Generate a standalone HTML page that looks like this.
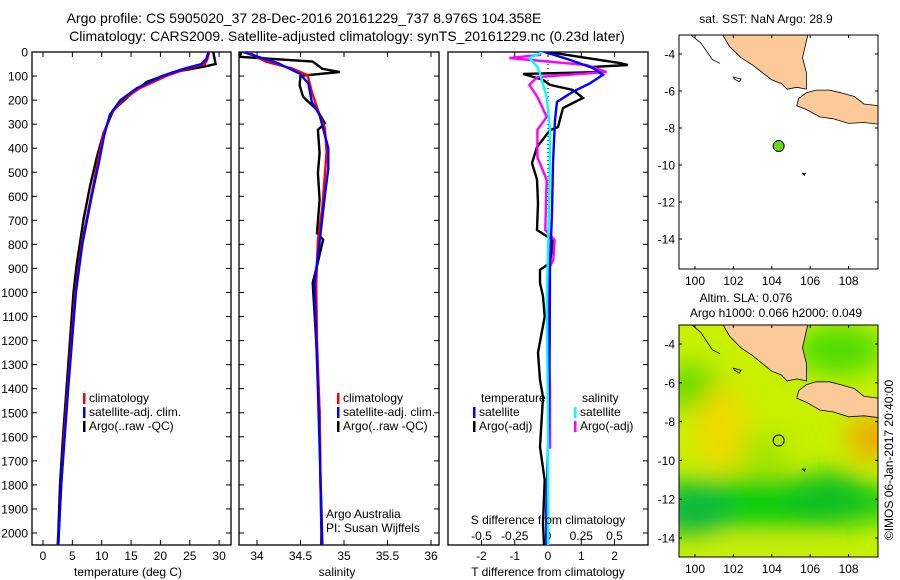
<!DOCTYPE html>
<html><head><meta charset="utf-8">
<style>
body{margin:0;background:#fff;}
svg{display:block;font-family:"Liberation Sans","DejaVu Sans",sans-serif;}
text{fill:#000;}
</style></head>
<body>
<svg id="fig" width="900" height="580" viewBox="0 0 900 580" xmlns="http://www.w3.org/2000/svg">
<defs>
<filter id="blur" x="-50%" y="-50%" width="200%" height="200%"><feGaussianBlur stdDeviation="13"/></filter>
<clipPath id="c1"><rect x="32" y="52" width="199" height="493"/></clipPath>
<clipPath id="c2"><rect x="239" y="52" width="200" height="493"/></clipPath>
<clipPath id="c3"><rect x="448" y="52" width="200" height="493"/></clipPath>
<clipPath id="cm1"><rect x="679" y="35" width="199" height="234"/></clipPath>
<clipPath id="cm2"><rect x="679" y="325" width="199" height="232"/></clipPath>
</defs>
<text x="304" y="23" font-size="14" text-anchor="middle">Argo profile: CS 5905020_37 28-Dec-2016 20161229_737 8.976S 104.358E</text>
<text x="347" y="41" font-size="14" text-anchor="middle">Climatology: CARS2009. Satellite-adjusted climatology: synTS_20161229.nc (0.23d later)</text>
<g id="p1"></g>
<g id="p2"></g>
<g id="p3"></g>
<g id="m1"></g>
<g id="m2"></g>
<text transform="translate(893,460) rotate(-90)" font-size="12" text-anchor="middle">©IMOS 06-Jan-2017 20:40:00</text>
</svg>
<script>
// ---- data ----
const depthTicks = [0,100,200,300,400,500,600,700,800,900,1000,1100,1200,1300,1400,1500,1600,1700,1800,1900,2000];
const tempTicks = [0,5,10,15,20,25,30];
const salTicks = [34,34.5,35,35.5,36];
const tdiffTicks = [-2,-1,0,1,2];
const sdiffTicks = [-0.5,-0.25,0,0.25,0.5];
const lonTicks = [100,102,104,106,108];
const latTicks = [-4,-6,-8,-10,-12,-14];

const tArgoDepth = [0,50,60,84,124,179,241,338,434,558,697,890,1000,1400,1600,1800,2000,2050];
const tArgoVal   = [29,29.4,27.6,22.2,17.7,14.8,12,10.3,9.2,8.0,6.9,5.7,5.2,4.0,3.4,2.9,2.6,2.5];
const tClimDepth = [0,30,50,70,100,150,200,260,350,450,600,800,1000,1400,1600,1800,2000,2050];
const tClimVal   = [28.3,28,27.6,24.5,21,16.5,13.5,11.5,10.2,9.4,8.2,6.6,5.5,4.2,3.6,3.1,2.7,2.6];
const tSatDepth  = [0,30,50,70,100,150,200,260,350,450,600,800,1000,1400,1600,1800,2000,2050];
const tSatVal    = [28.2,27.8,27,24,20.3,16,13.2,11.4,10.4,9.6,8.3,6.7,5.6,4.3,3.7,3.1,2.7,2.6];

const sArgoDepth = [0,20,40,70,83,99,138,186,241,296,324,420,503,614,753,780,890,960,1015,1200,1500,1800,2000,2050];
const sArgoVal   = [33.82,33.8,34.64,34.75,34.95,34.5,34.49,34.53,34.69,34.78,34.7,34.72,34.7,34.72,34.69,34.76,34.69,34.64,34.65,34.68,34.72,34.73,34.74,34.74];
const sClimDepth = [0,40,68,96,165,262,317,414,510,648,786,966,1200,1500,1800,2050];
const sClimVal   = [33.9,34.1,34.4,34.58,34.63,34.72,34.78,34.8,34.78,34.75,34.7,34.68,34.69,34.72,34.73,34.75];
const sSatDepth  = [0,45,90,130,207,262,400,485,596,790,966,1400,1900,2050];
const sSatVal    = [33.84,34.23,34.49,34.59,34.63,34.72,34.82,34.82,34.78,34.72,34.66,34.7,34.74,34.75];

const dTSatDepth = [0,33,67,95,130,165,207,283,462,670,877,1200,1500,1900,2050];
const dTSatVal   = [-0.1,0.66,1.35,1.65,1.26,0.75,0.27,0.21,0.15,0.12,0.06,0.05,0.03,-0.05,-0.05];
const dTArgoDepth = [0,12,46,54,62,83,91,116,137,158,191,233,312,325,395,462,530,628,740,782,877,906,960,1016,1100,1250,1364,1434,1642,1780,1958,2050];
const dTArgoVal   = [0,0.57,2.16,2.4,1.35,1.65,-0.75,-0.15,0.06,0.75,1.05,0.45,0.3,0.06,-0.33,-0.48,-0.33,-0.3,-0.33,0.15,0.06,-0.24,-0.24,-0.15,-0.1,-0.3,-0.24,-0.15,-0.24,-0.1,-0.15,-0.12];
const dSArgoDepth = [0,12,25,54,83,104,137,187,270,324,437,532,740,782,865,906,1050,1400,1650];
const dSArgoVal   = [-0.06,-0.06,-0.29,0.29,0.44,-0.08,-0.14,-0.08,-0.01,-0.08,-0.08,-0.01,-0.02,0.05,0.04,0,0,0.015,0.015];
const dSSatDepth = [0,25,62,90,187,324,600,1050,1500,2050];
const dSSatVal   = [-0.04,-0.14,-0.08,-0.06,-0.01,0.015,0.01,-0.01,0,0];

const argoLon = [104.358];
const argoLat = [-8.976];

// ---- helpers ----
const NS='http://www.w3.org/2000/svg';
function mk(parent, tag, attrs, txt){const e=document.createElementNS(NS,tag);for(const k in attrs)e.setAttribute(k,attrs[k]);if(txt!==undefined)e.textContent=txt;parent.appendChild(e);return e;}
const yD = d => 52 + d*0.2405;
const xT = t => 43 + t*5.87;
const xS = s => 257 + (s-34)*87;
const xDT = v => 548 + v*33.3;
const xDS = v => 548 + v*133;

function frame(g,x0,x1){const r=mk(g,'rect',{x:x0,y:52,width:x1-x0,height:493,fill:'none',stroke:'#000','stroke-width':1.3});

}
function line(g,depths,vals,xf,color,clip,name){
  const pts=depths.map((d,i)=>xf(vals[i]).toFixed(1)+','+yD(d).toFixed(1)).join(' ');
  const p=mk(g,'polyline',{points:pts,fill:'none',stroke:color,'stroke-width':2.4,'stroke-linejoin':'miter','clip-path':'url(#'+clip+')'});
  
  
}
function depthAxis(g,x0,x1,labels){
  depthTicks.forEach(d=>{
    const y=yD(d);
    mk(g,'line',{x1:x0,y1:y,x2:x0+5,y2:y,stroke:'#000'});
    mk(g,'line',{x1:x1-5,y1:y,x2:x1,y2:y,stroke:'#000'});
    if(labels){const t=mk(g,'text',{x:28,y:y+4.5,'font-size':12,'text-anchor':'end'},String(d));
      
      }
  });
}
function xAxis(g,ticks,xf,y){
  ticks.forEach(v=>{const x=xf(v);
    mk(g,'line',{x1:x,y1:545,x2:x,y2:540,stroke:'#000'});
    mk(g,'line',{x1:x,y1:52,x2:x,y2:57,stroke:'#000'});
    const t=mk(g,'text',{x:x,y:y,'font-size':12,'text-anchor':'middle'},String(v));
    
    });
}
function legend(g,x,y,items){
  items.forEach((it,i)=>{
    mk(g,'rect',{x:x,y:y+i*14-9,width:2.5,height:11,fill:it[1]});
    const t=mk(g,'text',{x:x+6,y:y+i*14,'font-size':12},it[0]);
    
    
  });
}

// ---- panel 1 ----
const p1=document.getElementById('p1');
frame(p1,32,231); depthAxis(p1,32,231,true); xAxis(p1,tempTicks,xT,560);
line(p1,tArgoDepth,tArgoVal,xT,'#000','c1','temp-argo-line');
line(p1,tClimDepth,tClimVal,xT,'#f00','c1','temp-climatology-line');
line(p1,tSatDepth,tSatVal,xT,'#00f','c1','temp-satellite-line');
legend(p1,83,402,[['climatology','#f00'],['satellite-adj. clim.','#00f'],['Argo(..raw -QC)','#000']]);
let t=mk(p1,'text',{x:128,y:576,'font-size':12,'text-anchor':'middle'},'temperature (deg C)');
 

// ---- panel 2 ----
const p2=document.getElementById('p2');
frame(p2,239,439); depthAxis(p2,239,439,false); xAxis(p2,salTicks,xS,560);
line(p2,sArgoDepth,sArgoVal,xS,'#000','c2','sal-argo-line');
line(p2,sClimDepth,sClimVal,xS,'#f00','c2','sal-climatology-line');
line(p2,sSatDepth,sSatVal,xS,'#00f','c2','sal-satellite-line');
legend(p2,337,402,[['climatology','#f00'],['satellite-adj. clim.','#00f'],['Argo(..raw -QC)','#000']]);
t=mk(p2,'text',{x:326,y:518,'font-size':12},'Argo Australia');  
t=mk(p2,'text',{x:326,y:532,'font-size':12},'PI: Susan Wijffels');  
t=mk(p2,'text',{x:337,y:576,'font-size':12,'text-anchor':'middle'},'salinity');  

// ---- panel 3 ----
const p3=document.getElementById('p3');
frame(p3,448,648);
depthTicks.forEach(d=>{const y=yD(d);mk(p3,'line',{x1:643,y1:y,x2:648,y2:y,stroke:'#000'});});
tdiffTicks.forEach(v=>{const x=xDT(v);mk(p3,'line',{x1:x,y1:52,x2:x,y2:57,stroke:'#000'});
  const tt=mk(p3,'text',{x:x,y:560,'font-size':12,'text-anchor':'middle'},String(v));
   });
sdiffTicks.forEach(v=>{const x=xDS(v);mk(p3,'line',{x1:x,y1:545,x2:x,y2:540,stroke:'#000'});
  const tt=mk(p3,'text',{x:x,y:540,'font-size':12,'text-anchor':'middle'},String(v));
   });
mk(p3,'line',{x1:548,y1:52,x2:548,y2:545,stroke:'#000','stroke-dasharray':'1,3'});
line(p3,dTArgoDepth,dTArgoVal,xDT,'#000','c3','tdiff-argo-line');
line(p3,dSArgoDepth,dSArgoVal,xDS,'#f0f','c3','sdiff-argo-line');
line(p3,dTSatDepth,dTSatVal,xDT,'#00f','c3','tdiff-satellite-line');
line(p3,dSSatDepth,dSSatVal,xDS,'#0ff','c3','sdiff-satellite-line');
t=mk(p3,'text',{x:481,y:402,'font-size':12},'temperature');  
t=mk(p3,'text',{x:582,y:402,'font-size':12},'salinity');  
legend(p3,473,416,[['satellite','#00f'],['Argo(-adj)','#000']]);
legend(p3,574,416,[['satellite','#0ff'],['Argo(-adj)','#f0f']]);
t=mk(p3,'text',{x:548,y:524,'font-size':12,'text-anchor':'middle'},'S difference from climatology');  
t=mk(p3,'text',{x:548,y:576,'font-size':12,'text-anchor':'middle'},'T difference from climatology');  

// ---- maps ----
const sumatra=[[101.4,-2.9],[101.8,-3.6],[102.4,-4.2],[103,-4.6],[103.5,-5.0],[104,-5.4],[104.5,-5.6],[104.8,-5.9],[105.3,-5.8],[105.8,-5.9],[105.8,-5.0],[105.6,-4.2],[105.8,-3.3],[105.9,-2.9]];
const coastOff=[[99.7,-2.9],[100.3,-3.4],[100.9,-4.3],[101.3,-4.5]];
const java=[[105.8,-6.1],[106.3,-5.95],[107,-5.95],[107.6,-6.1],[108.3,-6.3],[108.8,-6.7],[109.6,-6.8],[109.6,-7.8],[108.8,-7.7],[108,-7.75],[107.2,-7.5],[106.5,-7.4],[105.8,-7.0],[105.3,-6.8],[105.4,-6.4]];
const island1=[[102,-5.25],[102.4,-5.35],[102.3,-5.5],[102.05,-5.35]];
const island2=[[105.6,-10.45],[105.75,-10.45],[105.7,-10.55]];
function drawMap(g,top,bot,latAt,latScale,clip,field){
  const xL = lon => 695 + (lon-100)*19.2;
  const yL = lat => latAt + (-4-lat)*latScale;
  const bg=mk(g,'g',{'clip-path':'url(#'+clip+')'});
  if(field){
    mk(bg,'rect',{x:679,y:top,width:199,height:bot-top,fill:'#c8f000'});
    const blobs=[[99.8,-6.2,28,22,'#60dc00'],[101.4,-8.3,26,42,'#f0d800'],[103.5,-12.2,150,26,'#10cc10'],[100,-12.6,35,26,'#10b840'],[107,-12,40,28,'#10c020'],[103.5,-14.9,60,12,'#c8ee10'],[109.4,-8.8,28,22,'#f0a800'],[107.5,-4.3,45,25,'#50dc00'],[103.6,-9.6,25,18,'#a0e400']];
    const fg=mk(bg,'g',{filter:'url(#blur)'});
    blobs.forEach(b=>mk(fg,'ellipse',{cx:xL(b[0]),cy:yL(b[1]),rx:b[2],ry:b[3],fill:b[4]}));
  }
  [sumatra,java].forEach(poly=>{const p=mk(bg,'polygon',{points:poly.map(q=>xL(q[0]).toFixed(1)+','+yL(q[1]).toFixed(1)).join(' '),fill:'#fbca98',stroke:'#000','stroke-width':0.8});
     });
  mk(bg,'polyline',{points:coastOff.map(q=>xL(q[0]).toFixed(1)+','+yL(q[1]).toFixed(1)).join(' '),fill:'none',stroke:'#000','stroke-width':0.8});
  [island1,island2].forEach(poly=>mk(bg,'polygon',{points:poly.map(q=>xL(q[0]).toFixed(1)+','+yL(q[1]).toFixed(1)).join(' '),fill:'none',stroke:'#000','stroke-width':0.8}));
  argoLon.forEach((lo,i)=>{const c=mk(bg,'circle',{cx:xL(lo),cy:yL(argoLat[i]),r:5.5,fill:field?'none':'#66dd11',stroke:'#000','stroke-width':1});
     });
  const fr=mk(g,'rect',{x:679,y:top,width:199,height:bot-top,fill:'none',stroke:'#000'});
   
  lonTicks.forEach(lo=>{const x=xL(lo);
    mk(g,'line',{x1:x,y1:top,x2:x,y2:top+3,stroke:'#000'});mk(g,'line',{x1:x,y1:bot,x2:x,y2:bot-3,stroke:'#000'});
    const tt=mk(g,'text',{x:x,y:bot+16,'font-size':12,'text-anchor':'middle'},String(lo));
     });
  latTicks.forEach(la=>{const y=yL(la);
    mk(g,'line',{x1:679,y1:y,x2:682,y2:y,stroke:'#000'});mk(g,'line',{x1:878,y1:y,x2:875,y2:y,stroke:'#000'});
    const tt=mk(g,'text',{x:675,y:y+4.5,'font-size':12,'text-anchor':'end'},String(la));
     });
}
const m1=document.getElementById('m1');
drawMap(m1,35,269,54,18.5,'cm1',false);
t=mk(m1,'text',{x:766,y:23,'font-size':12,'text-anchor':'middle'},'sat. SST: NaN Argo: 28.9');  
const m2=document.getElementById('m2');
drawMap(m2,325,557,344,19.4,'cm2',true);
t=mk(m2,'text',{x:746,y:302,'font-size':12,'text-anchor':'middle'},'Altim. SLA: 0.076');  
t=mk(m2,'text',{x:776,y:317,'font-size':12,'text-anchor':'middle'},'Argo h1000: 0.066 h2000: 0.049');  
</script>
</body></html>
